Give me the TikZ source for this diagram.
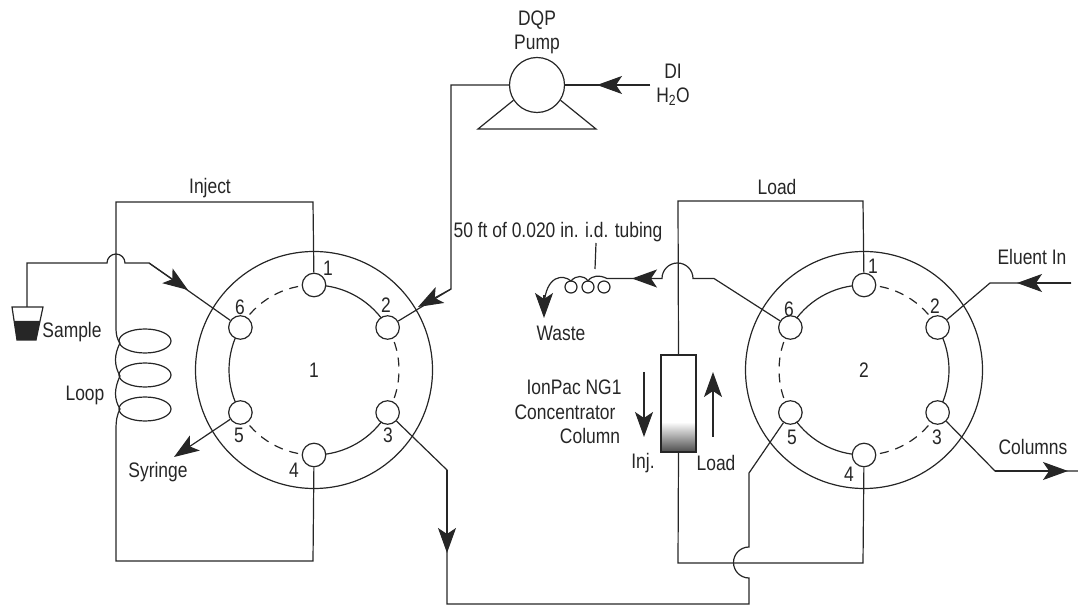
\documentclass[tikz,border=0pt]{standalone}
\usepackage{fontspec}
\setmainfont[FakeStretch=0.83]{Liberation Sans}
\usetikzlibrary{arrows.meta}
\definecolor{ink}{gray}{0.15}
\tikzset{
	wire/.style={line width=1.2pt,draw=ink},
	flow/.style={wire,-{Stealth[length=25pt,width=18pt,inset=6pt]}},
	valve/.style={circle,draw=ink,line width=1.2pt,minimum size=237pt,inner sep=0pt},
	port/.style={circle,draw=ink,line width=1.2pt,fill=white,minimum size=23.5pt,inner sep=0pt},
	lbl/.style={inner sep=0pt},
	broken/.style={wire,dash pattern=on 9pt off 7pt},
}
\begin{document}
\begin{tikzpicture}[x=1pt,y=1pt,every node/.append style={font=\fontsize{21}{23}\selectfont,text=ink}]
\useasboundingbox (0,0) rectangle (1078,605);

% valves
\node[valve] (vi) at (314,235) {1};
\node[valve] (vl) at (864,235) {2};
\foreach \ang in {90,-30,-150} {
	\draw[wire] ([shift={(\ang:85)}]vi.center) arc[start angle=\ang,delta angle=-60,radius=85];
	\draw[broken] ([shift={(\ang:85)}]vl.center) arc[start angle=\ang,delta angle=-60,radius=85];
}
\foreach \ang in {30,-90,150} {
	\draw[broken] ([shift={(\ang:85)}]vi.center) arc[start angle=\ang,delta angle=-60,radius=85];
	\draw[wire] ([shift={(\ang:85)}]vl.center) arc[start angle=\ang,delta angle=-60,radius=85];
}
\foreach \n/\ang in {1/90,2/30,3/-30,4/-90,5/-150,6/150} {
	\node[port] (vi\n) at ([shift={(\ang:85)}]vi.center) {};
	\node[port] (vl\n) at ([shift={(\ang:85)}]vl.center) {};
}
\foreach \n/\x/\y in {1/328/337,2/386/300,3/388/170,4/294/135,5/239/170,6/240/298} {
	\node[lbl] (nvi\n) at (\x,\y) {\n};
}
\foreach \n/\x/\y in {1/873/339,2/935/299,3/937/168,4/849/131,5/792/168,6/789/296} {
	\node[lbl] (nvl\n) at (\x,\y) {\n};
}

% pump
\node[circle,draw=ink,line width=1.2pt,minimum size=55pt,inner sep=0pt] (pump) at (537,520) {};
\node[lbl,align=center] (pumplbl) at (537,573) {DQP\\[1pt]Pump};
\node[lbl,align=center] (dilbl) at (673,520) {DI\\[1pt]H\textsubscript{2}O};
\coordinate (diin) at (650,520);
\draw[wire] (pump.-147) -- (478,476) -- (596,476) -- (pump.-33);
\draw[wire] (diin) -- (pump.east);
\draw[flow] (diin) -- (597,520);
\draw[wire] (pump.west) -- (451,520) -- (451,316) -- (vi2);
\draw[flow] (451,316) -- (418,298);

% loop on valve 1
\foreach \y in {264,230,196} {
	\draw[wire] (145,\y) ellipse [x radius=26,y radius=12];
}
\draw[wire] (vi1) -- (313,403) -- (116,403) -- (116,278)
	.. controls (116,270) and (117,266) .. (120,262)
	.. controls (114,250) and (114,240) .. (120,229)
	.. controls (114,216) and (114,206) .. (120,196)
	.. controls (117,190) and (116,185) .. (116,175)
	-- (116,44) -- (313,44) -- (vi4);
\node[lbl] (injectlbl) at (210,417) {Inject};
\node[lbl] (looplbl) at (85,210) {Loop};

% sample
\fill[ink] (14,284) -- (40,284) -- (36,265) -- (17,265) -- cycle;
\draw[wire] (12,298) -- (43,298) -- (36,265) -- (17,265) -- cycle;
\coordinate (beaker) at (27,298);
\draw[wire] (beaker) -- (27,342) -- (107,342) arc[start angle=180,delta angle=-180,radius=9] -- (149,342) -- (vi6);
\draw[flow] (149,342) -- (188,315);
\node[lbl] (samplelbl) at (72,273) {Sample};

% syringe and link to valve 2
\coordinate (syringe) at (174,148);
\draw[flow] (vi5) -- (syringe);
\node[lbl] (syringelbl) at (158,133) {Syringe};
\draw[wire] (vi3) -- (447,135) -- (447,1) -- (749,1) -- (749,27)
	arc[start angle=-90,delta angle=-180,radius=15.5] -- (749,132) -- (vl5);
\draw[flow] (447,135) -- (447,52);

% concentrator column
\shade[top color=white,bottom color=black!70] (661,153) rectangle (696,183);
\node[draw=ink,line width=1.2pt,minimum width=35pt,minimum height=97pt,inner sep=0pt] (column) at (678.5,201.5) {};
\draw[wire] (vl1) -- (863,404) -- (678,404) -- (column.north);
\draw[wire] (column.south) -- (678,42) -- (863,42) -- (vl4);
\node[lbl] (loadlbl) at (777,418) {Load};
\node[lbl] (ionlbl) at (574,218) {IonPac NG1};
\node[lbl] (conclbl) at (565,193) {Concentrator};
\node[lbl] (collbl) at (590,169) {Column};
\node[lbl] (injlbl) at (643,142) {Inj.};
\node[lbl] (loadarrlbl) at (716,142) {Load};
\coordinate (injtail) at (644,233);
\coordinate (loadtail) at (713,168);
\draw[flow] (injtail) -- (644,168);
\draw[flow] (loadtail) -- (713,233);

% waste
\foreach \x in {571,588,604} {
	\draw[wire] (\x,318) circle (6);
}
\draw[wire] (vl6) -- (714,326.5) -- (693,326.5) arc[start angle=0,delta angle=180,radius=15.5] -- (607,326.5)
	.. controls (600,330) and (592,330) .. (588,324)
	.. controls (584,330) and (576,330) .. (571,324)
	.. controls (563,331) and (546,330) .. (544,300);
\draw[flow] (662,326.5) -- (632,326.5);
\draw[flow] (544,310) -- (544,287);
\node[lbl] (tubelbl) at (558,373) {50 ft of 0.020 in. i.d. tubing};
\node[lbl] (wastelbl) at (561,272) {Waste};
\coordinate (leadtop) at (596,362);
\coordinate (leadend) at (595,336);
\draw[wire] (leadtop) -- (leadend);

% eluent and columns
\coordinate (eluentin) at (1071,322);
\coordinate (colout) at (1078,134);
\draw[wire] (eluentin) -- (990,322) -- (vl2);
\draw[flow] (eluentin) -- (1017,322);
\draw[wire] (vl3) -- (995,134) -- (colout);
\draw[flow] (995,134) -- (1068,134);
\node[lbl] (eluentlbl) at (1032,348) {Eluent In};
\node[lbl] (columnslbl) at (1033,158) {Columns};
\end{tikzpicture}
\end{document}
